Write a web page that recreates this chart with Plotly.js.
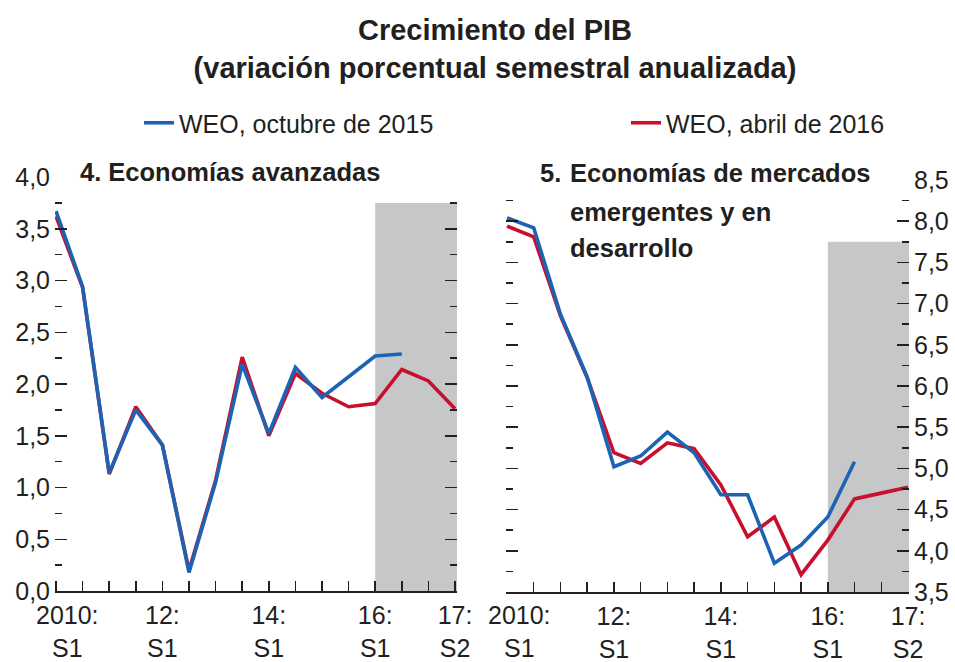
<!DOCTYPE html>
<html><head><meta charset="utf-8">
<script src="https://cdn.plot.ly/plotly-3.0.1.min.js"></script>
<style>html,body{margin:0;padding:0;background:#fff}#chart{width:955px;height:662px}</style>
</head><body><div id="chart"></div>
<script>
// ---- data ----
const periods = ['2010S1','2010S2','2011S1','2011S2','2012S1','2012S2','2013S1','2013S2',
                 '2014S1','2014S2','2015S1','2015S2','2016S1','2016S2','2017S1','2017S2'];
const tickLabels = [['2010:','S1'],null,null,null,['12:','S1'],null,null,null,['14:','S1'],null,null,null,['16:','S1'],null,null,['17:','S2']];
const seriesNames = ['WEO, octubre de 2015', 'WEO, abril de 2016'];
const panelTitles = ['4. Economías avanzadas', '5.', ['Economías de mercados', 'emergentes y en', 'desarrollo']];
const chartTitle = ['Crecimiento del PIB', '(variación porcentual semestral anualizada)'];

const advOct2015 = [3.67,2.94,1.14,1.75,1.41,0.18,1.05,2.19,1.52,2.16,1.87,2.07,2.27,2.29,null,null];
const advApr2016 = [3.62,2.93,1.13,1.78,1.41,0.20,1.07,2.26,1.50,2.10,1.91,1.78,1.81,2.14,2.03,1.76];
const emOct2015  = [8.04,7.92,6.87,6.11,5.02,5.15,5.44,5.19,4.68,4.68,3.85,4.07,4.41,5.08,null,null];
const emApr2016  = [7.94,7.81,6.85,6.10,5.19,5.06,5.31,5.24,4.80,4.17,4.41,3.71,4.13,4.63,4.70,4.77];

const forecastStart = periods.indexOf('2016S1');
const advShadeTop = 3.75;
const emShadeTop = 7.75;

// ---- styling ----
const W = 955, H = 662;
const px = v => v / W;
const py = v => 1 - v / H;
const FONT = '"Liberation Sans", Arial, sans-serif';
const INK = '#231f20';
const BLUE = '#1d63b4';
const RED = '#c8102e';
const SHADE = '#c6c7c9';
const idx = periods.map((p, i) => i);

// the first label sits a little right of its tick in the original, so it is drawn as an annotation
const tickText = tickLabels.map((l, i) => (!l || i === 0) ? '' : l.join('<br>'));
const firstLabel = tickLabels[0].join('<br>');
const FIRST_NUDGE = 0.45;

const xL = [-0.038, 15.075];
const xR = [-0.037, 15.037];

function xAxis(domain, range, anchor) {
  return {
    domain, range, anchor,
    tickmode: 'array', tickvals: idx, ticktext: tickText,
    ticks: 'inside', ticklen: 10, tickwidth: 1.5, tickcolor: INK,
    showline: true, linecolor: INK, linewidth: 2,
    showgrid: false, zeroline: false,
    ticklabelstandoff: 1,
    tickfont: {size: 25, color: INK, family: FONT},
    fixedrange: true
  };
}
function yAxis(domain, range, anchor, side) {
  return {
    domain, range, anchor, side,
    tick0: 0, dtick: 0.5, tickformat: '.1f',
    ticks: 'inside', ticklen: 12, tickwidth: 1.5, tickcolor: INK,
    mirror: 'ticks',
    minor: {dtick: 0.25, ticks: 'inside', ticklen: 7, tickwidth: 1.5, tickcolor: INK},
    showline: false, showgrid: false, zeroline: false,
    ticklabelstandoff: 4,
    tickfont: {size: 25, color: INK, family: FONT},
    fixedrange: true
  };
}

const traces = [
  {x: idx, y: advApr2016, type: 'scatter', mode: 'lines', name: seriesNames[1], legend: 'legend2',
   line: {color: RED, width: 3.6}, xaxis: 'x', yaxis: 'y', legendgroup: 'apr'},
  {x: idx, y: advOct2015, type: 'scatter', mode: 'lines', name: seriesNames[0], legend: 'legend',
   line: {color: BLUE, width: 3.6}, xaxis: 'x', yaxis: 'y', legendgroup: 'oct'},
  {x: idx, y: emApr2016, type: 'scatter', mode: 'lines', name: seriesNames[1], showlegend: false,
   line: {color: RED, width: 3.6}, xaxis: 'x2', yaxis: 'y2', legendgroup: 'apr'},
  {x: idx, y: emOct2015, type: 'scatter', mode: 'lines', name: seriesNames[0], showlegend: false,
   line: {color: BLUE, width: 3.6}, xaxis: 'x2', yaxis: 'y2', legendgroup: 'oct'}
];

const titleFont = {size: 25.5, weight: 'bold', color: INK, family: FONT};
const ann = [
  {xref: 'paper', yref: 'paper', x: px(78), y: py(172), xanchor: 'left', yanchor: 'middle',
   text: panelTitles[0], showarrow: false, font: titleFont},
  {xref: 'paper', yref: 'paper', x: px(538), y: py(173), xanchor: 'left', yanchor: 'middle',
   text: panelTitles[1], showarrow: false, font: titleFont}
];
const lineY = [173, 212, 248];
panelTitles[2].forEach((t, i) => ann.push({
  xref: 'paper', yref: 'paper', x: px(568), y: py(lineY[i]), xanchor: 'left', yanchor: 'middle',
  text: t, showarrow: false, font: titleFont
}));
['x', 'x2'].forEach(xr => ann.push({
  xref: xr, yref: 'paper', x: FIRST_NUDGE, y: py(599), xanchor: 'center', yanchor: 'top',
  text: firstLabel, showarrow: false, align: 'center',
  font: {size: 25, color: INK, family: FONT}
}));

const legendBase = {orientation: 'h', xanchor: 'left', y: py(123), yanchor: 'middle',
                    font: {size: 25, color: INK, family: FONT}, bgcolor: 'rgba(0,0,0,0)'};

const layout = {
  width: W, height: H,
  margin: {l: 0, r: 0, t: 0, b: 0},
  paper_bgcolor: '#ffffff', plot_bgcolor: 'rgba(0,0,0,0)',
  separators: ',.',
  font: {family: FONT, color: INK, size: 25},
  title: {text: chartTitle.join('<br>'), font: {size: 29, weight: 'bold', color: INK, family: FONT},
          x: px(495), xanchor: 'center', y: py(40), yanchor: 'top'},
  showlegend: true,
  legend: Object.assign({x: px(139)}, legendBase),
  legend2: Object.assign({x: px(626)}, legendBase),
  xaxis: xAxis([px(55), px(457)], xL, 'y'),
  yaxis: yAxis([py(591), py(177)], [0, 4], 'x', 'left'),
  xaxis2: xAxis([px(506), px(909)], xR, 'y2'),
  yaxis2: yAxis([py(592), py(180)], [3.5, 8.5], 'x2', 'right'),
  shapes: [
    {type: 'rect', xref: 'x', yref: 'y', x0: forecastStart, x1: xL[1], y0: 0, y1: advShadeTop,
     fillcolor: SHADE, line: {width: 0}, layer: 'below'},
    {type: 'rect', xref: 'x2', yref: 'y2', x0: forecastStart, x1: xR[1], y0: 3.5, y1: emShadeTop,
     fillcolor: SHADE, line: {width: 0}, layer: 'below'}
  ],
  annotations: ann
};

Plotly.newPlot('chart', traces, layout, {displayModeBar: false, staticPlot: true});
</script>
</body></html>
